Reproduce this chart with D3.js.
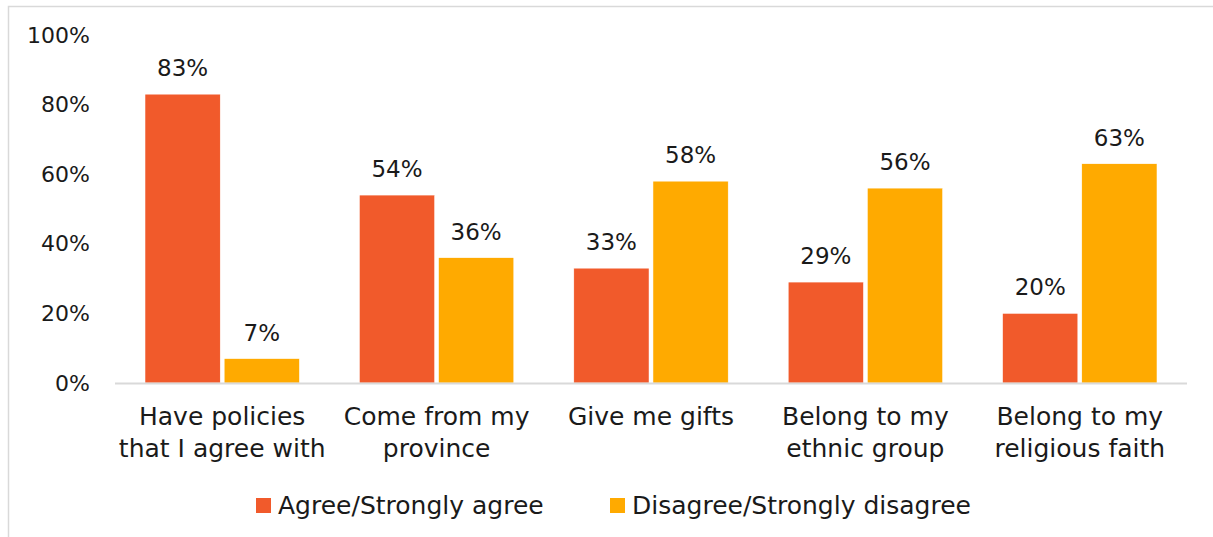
<!DOCTYPE html>
<html>
<head>
<meta charset="utf-8">
<script src="https://cdn.jsdelivr.net/npm/d3@7"></script>
<style>
  body { margin: 0; background: #fff; }
  svg { display: block; }
  text { font-family: "DejaVu Sans", sans-serif; fill: #1a1a1a; }
</style>
</head>
<body>
<svg id="chart"></svg>
<script>
// data
const categories = [
  ["Have policies", "that I agree with"],
  ["Come from my", "province"],
  ["Give me gifts"],
  ["Belong to my", "ethnic group"],
  ["Belong to my", "religious faith"]
];
const seriesNames = ["Agree/Strongly agree", "Disagree/Strongly disagree"];
const agree = [83, 54, 33, 29, 20];
const disagree = [7, 36, 58, 56, 63];
const yTicks = [0, 20, 40, 60, 80, 100];
const colors = ["#F15A2B", "#FFAA00"];

const width = 1213, height = 537;
const plotLeft = 115, plotRight = 1187, plotTop = 35, plotBottom = 383;
const tickFont = 22, valueFont = 23, labelFont = 25;

const svg = d3.select('#chart').attr('width', width).attr('height', height);

// frame (left + top edges visible in the cropped original)
svg.append('path').attr('d', `M8.5,${height} V6.5 H${width}`)
  .attr('fill', 'none').attr('stroke', '#d9d9d9').attr('stroke-width', 1.5);

const keys = categories.map((c, i) => i);
const x0 = d3.scaleBand().domain(keys).range([plotLeft, plotRight]).paddingInner(0.28).paddingOuter(0.14);
const x1 = d3.scaleBand().domain([0, 1]).range([0, x0.bandwidth()]).paddingInner(0.05);
const y = d3.scaleLinear().domain([0, 100]).range([plotBottom, plotTop]);

// y axis labels (no line)
const yAxis = d3.axisLeft(y).tickValues(yTicks).tickFormat(d => d + '%').tickSize(0).tickPadding(0);
const yAxisGroup = svg.append('g').attr('transform', 'translate(90,0)').call(yAxis);
yAxisGroup.select('.domain').remove();
yAxisGroup.selectAll('text').attr('font-size', tickFont).attr('font-family', '"DejaVu Sans", sans-serif').attr('fill', '#1a1a1a');

// bars
const rows = keys.map(i => [agree[i], disagree[i]]);
const groups = svg.append('g').selectAll('g').data(rows).enter().append('g')
  .attr('transform', (d, i) => `translate(${x0(i)},0)`);

groups.selectAll('rect').data(d => d).enter().append('rect')
  .attr('x', (d, j) => x1(j))
  .attr('width', x1.bandwidth())
  .attr('y', d => y(d))
  .attr('height', d => y(0) - y(d))
  .attr('fill', (d, j) => colors[j])
  .attr('stroke', '#fff').attr('stroke-width', 0.5);

groups.selectAll('text.val').data(d => d).enter().append('text')
  .attr('class', 'val')
  .attr('x', (d, j) => x1(j) + x1.bandwidth() / 2)
  .attr('y', d => y(d) - 18)
  .attr('text-anchor', 'middle')
  .attr('font-size', valueFont)
  .text(d => d + '%');

// baseline
svg.append('line').attr('x1', plotLeft).attr('x2', plotRight)
  .attr('y1', y(0) + 0.5).attr('y2', y(0) + 0.5)
  .attr('stroke', '#d9d9d9').attr('stroke-width', 2);

// category labels
const catLabels = svg.append('g').selectAll('text').data(categories).enter().append('text')
  .attr('x', (d, i) => x0(i) + x0.bandwidth() / 2)
  .attr('y', 425)
  .attr('text-anchor', 'middle')
  .attr('font-size', labelFont);
catLabels.selectAll('tspan').data(d => d).enter().append('tspan')
  .attr('x', function () { return this.parentNode.getAttribute('x'); })
  .attr('dy', (d, k) => k === 0 ? 0 : 32)
  .text(d => d);

// legend
const legendX = [256, 610];
const legend = svg.append('g').selectAll('g').data(seriesNames).enter().append('g')
  .attr('transform', (d, i) => `translate(${legendX[i]},498)`);
legend.append('rect').attr('width', 15).attr('height', 15).attr('fill', (d, i) => colors[i]);
legend.append('text').attr('x', 22).attr('y', 15.5).attr('font-size', labelFont).text(d => d);
</script>
</body>
</html>
